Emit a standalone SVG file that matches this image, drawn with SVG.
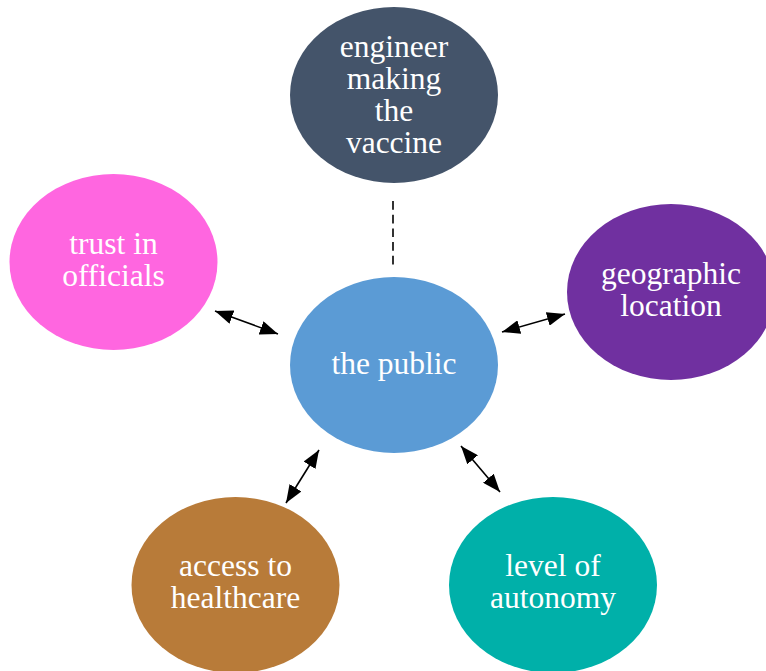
<svg xmlns="http://www.w3.org/2000/svg" width="766" height="671" viewBox="0 0 766 671">
  <style>
    .node ellipse { stroke: none; }
    .label { font-family: "Liberation Serif", "Times New Roman", serif; font-size: 31.5px; fill: #ffffff; text-anchor: middle; }
    .link { stroke: #000000; stroke-width: 1.6; fill: none; }
    .dash { stroke: #000000; stroke-width: 1.6; stroke-dasharray: 8.7 5; fill: none; }
  </style>
  <defs>
    <marker id="head" viewBox="0 0 18 14" refX="18" refY="7" markerWidth="18" markerHeight="14" markerUnits="userSpaceOnUse" orient="auto-start-reverse">
      <path d="M0,0 L18,7 L0,14 Z" fill="#000000"/>
    </marker>
  </defs>
  <rect width="766" height="671" fill="#ffffff"/>

  <g id="connectors">
    <line class="dash" x1="393" y1="201" x2="393" y2="265"/>
    <line class="link" x1="215" y1="311" x2="278" y2="334" marker-start="url(#head)" marker-end="url(#head)"/>
    <line class="link" x1="502" y1="332" x2="565" y2="314" marker-start="url(#head)" marker-end="url(#head)"/>
    <line class="link" x1="319" y1="450" x2="286" y2="503" marker-start="url(#head)" marker-end="url(#head)"/>
    <line class="link" x1="461" y1="446" x2="500" y2="492" marker-start="url(#head)" marker-end="url(#head)"/>
  </g>

  <g id="engineer" class="node">
    <ellipse cx="394" cy="95" rx="104" ry="88" fill="#44546A"/>
    <text class="label" x="394" y="57">engineer</text>
    <text class="label" x="394" y="89">making</text>
    <text class="label" x="394" y="121">the</text>
    <text class="label" x="394" y="153">vaccine</text>
  </g>

  <g id="trust" class="node">
    <ellipse cx="113.5" cy="262" rx="104" ry="88" fill="#FF66E0"/>
    <text class="label" x="113.5" y="254">trust in</text>
    <text class="label" x="113.5" y="286">officials</text>
  </g>

  <g id="geographic" class="node">
    <ellipse cx="671" cy="292" rx="104" ry="88" fill="#7030A0"/>
    <text class="label" x="671" y="284">geographic</text>
    <text class="label" x="671" y="316">location</text>
  </g>

  <g id="public" class="node">
    <ellipse cx="394" cy="365" rx="104" ry="88" fill="#5B9BD5"/>
    <text class="label" x="394" y="374">the public</text>
  </g>

  <g id="access" class="node">
    <ellipse cx="235.5" cy="585" rx="104" ry="88" fill="#B87B39"/>
    <text class="label" x="235.5" y="576">access to</text>
    <text class="label" x="235.5" y="608">healthcare</text>
  </g>

  <g id="autonomy" class="node">
    <ellipse cx="553" cy="585" rx="104" ry="88" fill="#00B0A9"/>
    <text class="label" x="553" y="576">level of</text>
    <text class="label" x="553" y="608">autonomy</text>
  </g>
</svg>
